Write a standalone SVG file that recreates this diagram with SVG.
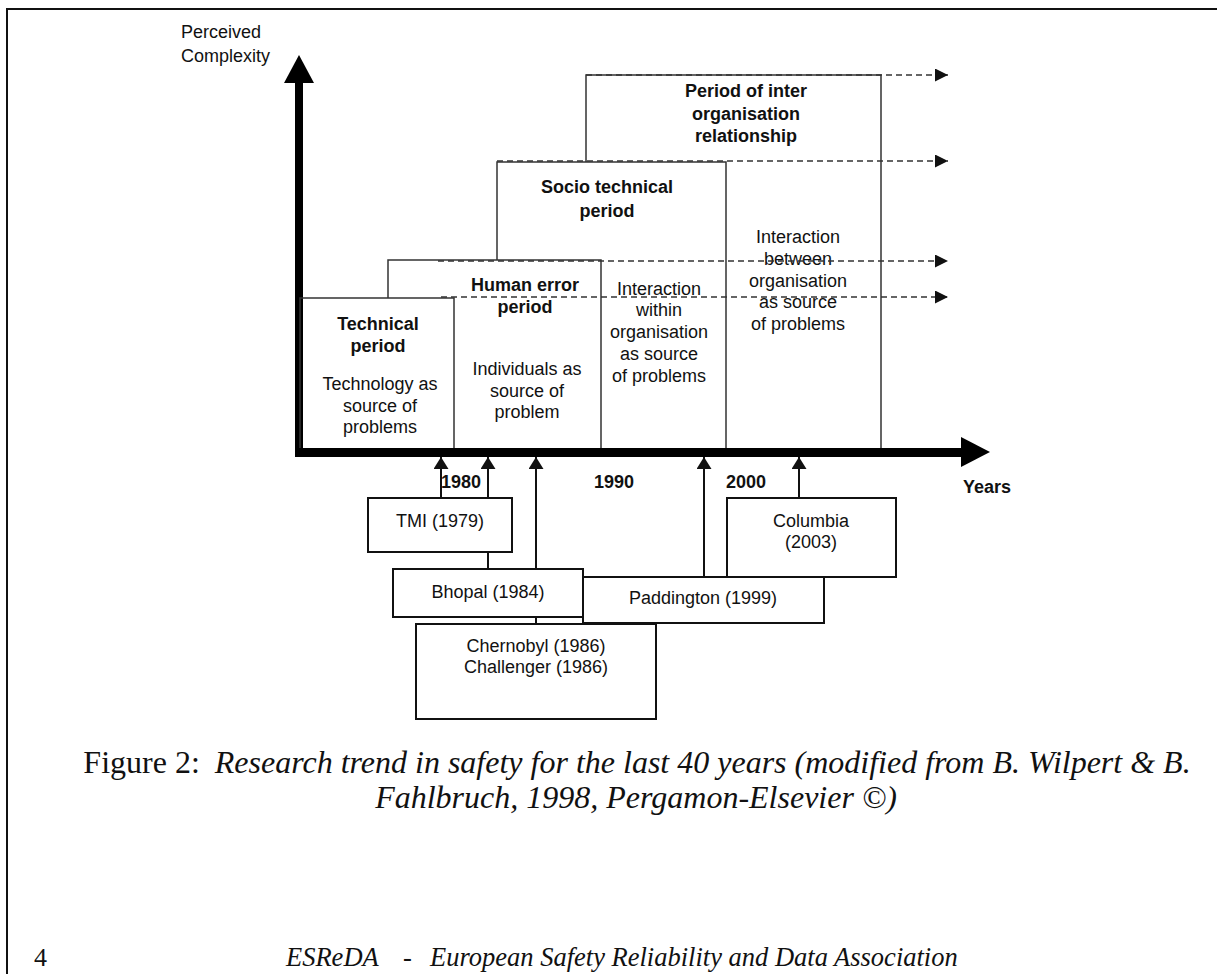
<svg xmlns="http://www.w3.org/2000/svg" width="1217" height="974" viewBox="0 0 1217 974">
<style>
.t{font-family:"Liberation Sans",Arial,sans-serif;font-size:18px;fill:#111;text-anchor:middle}
.b{font-weight:bold}
.pl{fill:none;stroke:#333;stroke-width:1.5}
.ds{fill:none;stroke:#333;stroke-width:1.5;stroke-dasharray:6 4}
.ev{fill:#fff;stroke:#111;stroke-width:2}
.cn{stroke:#111;stroke-width:2;fill:none}
.cap{font-family:"Liberation Serif","Times New Roman",serif;font-size:32px;fill:#111}
</style>
<defs>
<marker id="dh" markerWidth="14" markerHeight="13" refX="13" refY="6.5" orient="auto" markerUnits="userSpaceOnUse"><path d="M0,0 L13,6.5 L0,13 Z" fill="#111"/></marker>
<marker id="eh" markerWidth="13" markerHeight="15" refX="12" refY="7.5" orient="auto" markerUnits="userSpaceOnUse"><path d="M0,0 L12,7.5 L0,15 Z" fill="#111"/></marker>
</defs>
<rect width="1217" height="974" fill="#fff"/>
<path d="M7,974 V9 H1217" fill="none" stroke="#111" stroke-width="2"/>

<g id="axes">
<rect x="295" y="82" width="8" height="375" fill="#000"/>
<polygon points="284,83 314,83 299,55" fill="#000"/>
<rect x="295" y="448" width="667" height="9" fill="#000"/>
<polygon points="961,437 961,467 990,452" fill="#000"/>
<text class="t" x="181" y="38" style="text-anchor:start">Perceived</text>
<text class="t" x="181" y="62" style="text-anchor:start">Complexity</text>
<text class="t b" x="963" y="493" style="text-anchor:start">Years</text>
<text class="t b" x="461" y="488">1980</text>
<text class="t b" x="614" y="488">1990</text>
<text class="t b" x="746" y="488">2000</text>
</g>

<g id="period-technical">
<path class="pl" d="M300,448 V298 H454 V448"/>
<text class="t b" x="378" y="330">Technical</text>
<text class="t b" x="378" y="352">period</text>
<text class="t" x="380" y="390">Technology as</text>
<text class="t" x="380" y="412">source of</text>
<text class="t" x="380" y="433">problems</text>
</g>
<g id="period-human-error">
<path class="pl" d="M388,298 V260 H601 V448"/>
<text class="t b" x="525" y="291">Human error</text>
<text class="t b" x="525" y="313">period</text>
<text class="t" x="527" y="375">Individuals as</text>
<text class="t" x="527" y="397">source of</text>
<text class="t" x="527" y="418">problem</text>
</g>
<g id="period-socio-technical">
<path class="pl" d="M497,260 V162 H726 V448"/>
<text class="t b" x="607" y="193">Socio technical</text>
<text class="t b" x="607" y="217">period</text>
<text class="t" x="659" y="295">Interaction</text>
<text class="t" x="659" y="316">within</text>
<text class="t" x="659" y="338">organisation</text>
<text class="t" x="659" y="360">as source</text>
<text class="t" x="659" y="382">of problems</text>
</g>
<g id="period-inter-organisation">
<path class="pl" d="M586,162 V75 H881 V448"/>
<text class="t b" x="746" y="97">Period of inter</text>
<text class="t b" x="746" y="120">organisation</text>
<text class="t b" x="746" y="142">relationship</text>
<text class="t" x="798" y="243">Interaction</text>
<text class="t" x="798" y="265">between</text>
<text class="t" x="798" y="287">organisation</text>
<text class="t" x="798" y="308">as source</text>
<text class="t" x="798" y="330">of problems</text>
</g>

<g id="connectors">
<line class="ds" x1="586" y1="75" x2="948" y2="75" marker-end="url(#dh)"/>
<line class="ds" x1="497" y1="161" x2="948" y2="161" marker-end="url(#dh)"/>
<line class="ds" x1="438" y1="261" x2="948" y2="261" marker-end="url(#dh)"/>
<line class="ds" x1="441" y1="297" x2="948" y2="297" marker-end="url(#dh)"/>
<line class="cn" x1="441" y1="498" x2="441" y2="457" marker-end="url(#eh)"/>
<line class="cn" x1="488" y1="569" x2="488" y2="457" marker-end="url(#eh)"/>
<line class="cn" x1="536" y1="624" x2="536" y2="457" marker-end="url(#eh)"/>
<line class="cn" x1="704" y1="577" x2="704" y2="457" marker-end="url(#eh)"/>
<line class="cn" x1="799" y1="498" x2="799" y2="457" marker-end="url(#eh)"/>
</g>

<g id="event-paddington">
<rect class="ev" x="583" y="577" width="241" height="46"/>
<text class="t" x="703" y="604">Paddington (1999)</text>
</g>
<g id="event-bhopal">
<rect class="ev" x="393" y="569" width="190" height="48"/>
<text class="t" x="488" y="598">Bhopal (1984)</text>
</g>
<g id="event-tmi">
<rect class="ev" x="368" y="498" width="144" height="54"/>
<text class="t" x="440" y="527">TMI (1979)</text>
</g>
<g id="event-columbia">
<rect class="ev" x="727" y="498" width="169" height="79"/>
<text class="t" x="811" y="527">Columbia</text>
<text class="t" x="811" y="548">(2003)</text>
</g>
<g id="event-chernobyl-challenger">
<rect class="ev" x="416" y="624" width="240" height="95"/>
<text class="t" x="536" y="652">Chernobyl (1986)</text>
<text class="t" x="536" y="673">Challenger (1986)</text>
</g>

<g id="caption">
<text class="cap" x="637" y="773" text-anchor="middle">Figure 2:<tspan dx="15" font-style="italic">Research trend in safety for the last 40 years (modified from B. Wilpert &amp; B.</tspan></text>
<text class="cap" x="636" y="808" text-anchor="middle" font-style="italic">Fahlbruch, 1998, Pergamon-Elsevier ©)</text>
<text class="cap" x="34" y="966" style="font-size:26px">4</text>
<text class="cap" y="966" style="font-size:26.5px;font-style:italic"><tspan x="286">ESReDA</tspan><tspan x="403">-</tspan><tspan x="430">European Safety Reliability and Data Association</tspan></text>
</g>
</svg>
